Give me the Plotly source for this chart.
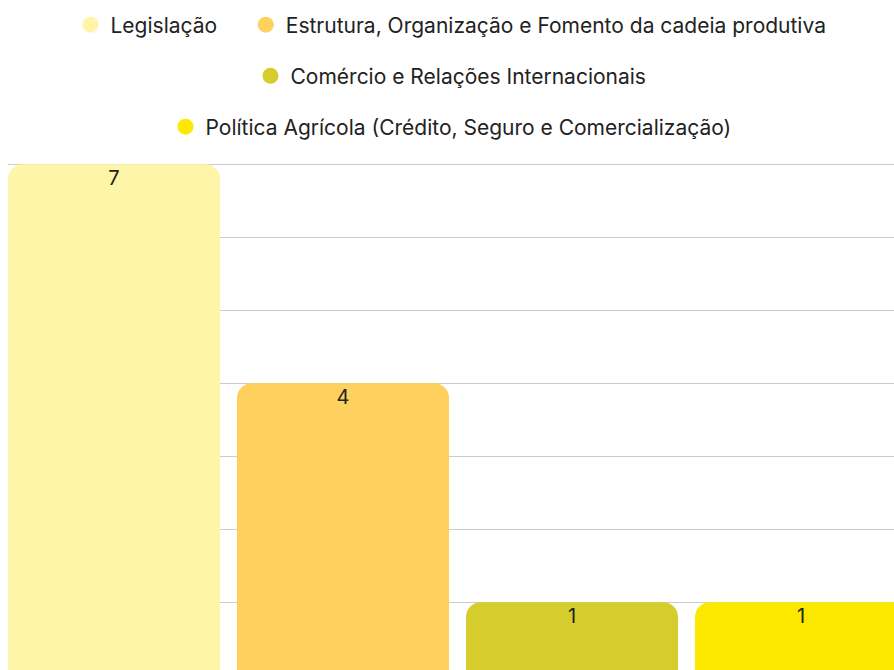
import plotly.graph_objects as go

categories = ["Legislação",
              "Estrutura, Organização e Fomento da cadeia produtiva",
              "Comércio e Relações Internacionais",
              "Política Agrícola (Crédito, Seguro e Comercialização)"]
values = [7, 4, 1, 1]
colors = ["#FEF5A8", "#FED15F", "#D6CD2C", "#FDE900"]
legend_groups = ["legend", "legend", "legend2", "legend3"]
legend_pad = ["\u00a0" * 4, "", "", ""]

FONT = "Inter"

fig = go.Figure()
fig.add_trace(go.Bar(
    x=categories, y=values,
    marker=dict(color=colors, line=dict(width=0)),
    showlegend=False, hoverinfo="x+y",
))
fig.add_trace(go.Scatter(
    x=categories, y=values, mode="text+markers",
    marker=dict(size=7, color="rgba(0,0,0,0)"),
    text=[str(v) for v in values], textposition="bottom center",
    textfont=dict(family=FONT, size=20, color="#222222"),
    showlegend=False, hoverinfo="skip",
))
for cat, col, lg, pad in zip(categories, colors, legend_groups, legend_pad):
    fig.add_trace(go.Scatter(
        x=[None], y=[None], mode="markers", name=cat + pad,
        marker=dict(color=col, size=20, symbol="circle"),
        legend=lg, showlegend=True,
    ))

leg_common = dict(orientation="h", xanchor="center", x=0.5, yanchor="middle",
                  font=dict(family=FONT, size=21, color="#222222"),
                  bgcolor="rgba(0,0,0,0)", itemsizing="trace")
fig.update_layout(
    width=894, height=670,
    margin=dict(l=8, r=0, t=162, b=0),
    plot_bgcolor="white", paper_bgcolor="white",
    bargap=0.074,
    barcornerradius=15,
    font=dict(family=FONT),
    legend=dict(y=1.2697, **leg_common),
    legend2=dict(y=1.169, **leg_common),
    legend3=dict(y=1.0689, **leg_common),
    xaxis=dict(range=[-0.463, 3.406], showticklabels=False, showgrid=False,
               zeroline=False, ticks=""),
    yaxis=dict(range=[0.071, 7.03], showticklabels=False, showgrid=True,
               gridcolor="#cccccc", gridwidth=1, zeroline=False, dtick=1,
               ticks=""),
)
fig.write_html("out.html")
